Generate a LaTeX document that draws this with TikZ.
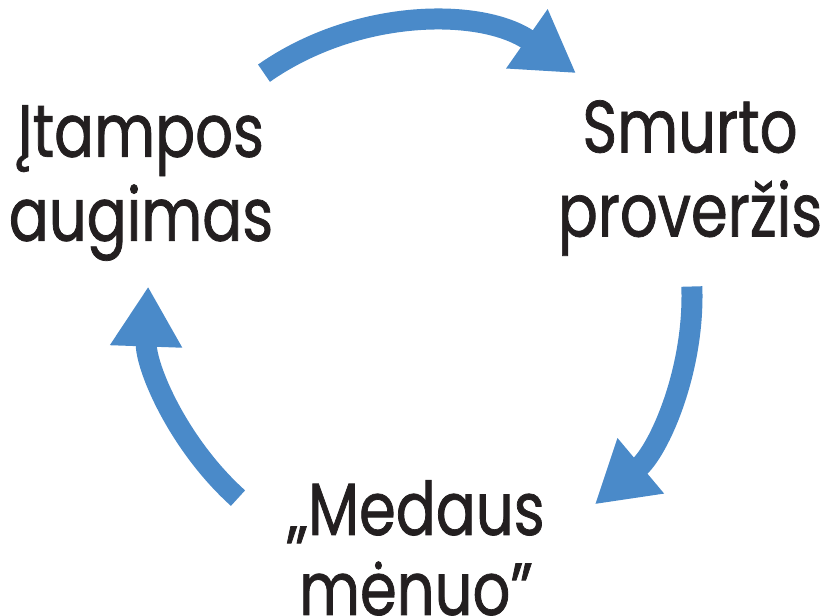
\documentclass[tikz,border=0pt]{standalone}
\usepackage{fontspec}
\setmainfont{Poppins}[FakeStretch=0.8, FakeBold=1]
\usepackage{tikz}
\usetikzlibrary{arrows.meta}
\definecolor{cyclecolor}{RGB}{74,138,201}
\definecolor{inkcolor}{RGB}{35,31,32}

\begin{document}
\begin{tikzpicture}[
    x=1pt, y=1pt,
    phase/.style={align=center, text=inkcolor, font=\fontsize{74}{84}\selectfont, inner sep=0pt},
    cyclearrow/.style={cyclecolor, line width=21pt, -{Triangle[length=60pt, width=68pt]}}
]
    \path[use as bounding box] (0,0) rectangle (839,616);
    \coordinate (centre) at (420,320);

    % Etapai
    \node[phase] (itampa) at (141,433) {Įtampos\\augimas};
    \node[phase] (smurtas) at (690,438) {Smurto\\proveržis};
    \node[phase, anchor=north] (medus) at (416,136) {„Medaus\\[-4pt]mėnuo”};

    % Rodyklės
    \draw[cyclearrow] ([shift={(125:272)}]centre) arc[start angle=125, end angle=55, radius=272];
    \draw[cyclearrow] ([shift={(2:272)}]centre) arc[start angle=2, end angle=-50, radius=272];
    \draw[cyclearrow] ([shift={(228:272)}]centre) arc[start angle=228, end angle=178, radius=272];
\end{tikzpicture}
\end{document}
